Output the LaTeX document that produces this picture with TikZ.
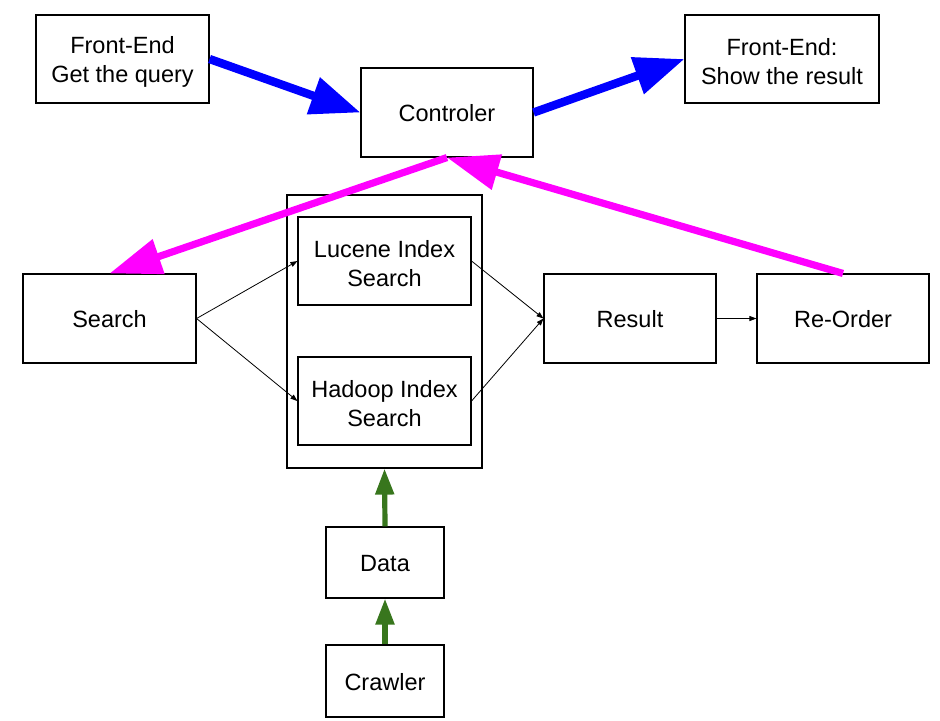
\documentclass[tikz,border=0pt]{standalone}
\usepackage{fontspec}
\setmainfont{Liberation Sans}
\usetikzlibrary{arrows.meta}
\definecolor{myblue}{RGB}{0,0,255}
\definecolor{mymag}{RGB}{255,0,255}
\definecolor{mygreen}{RGB}{56,118,29}
\tikzset{
  box/.style={draw=black, line width=0.55pt, fill=white, inner sep=0pt, align=center,
    font=\fontsize{11.75pt}{14.5pt}\selectfont, text height=9.5pt},
  twoline/.style={text height=26pt},
  thinarrow/.style={draw=black, line width=0.4pt, -{Triangle[length=3.5pt,width=2.5pt]}},
  bluearrow/.style={draw=myblue, line width=4.2pt, -{Triangle[length=25pt,width=18.5pt]}},
  magarrow/.style={draw=mymag, line width=3.6pt, -{Triangle[length=26pt,width=17.5pt]}},
  greenarrow/.style={draw=mygreen, line width=2.6pt, -{Triangle[length=13pt,width=9pt]}},
}
\begin{document}
\begin{tikzpicture}[x=0.5pt,y=-0.5pt]
\path[use as bounding box] (0,0) rectangle (940,720);
\node[box, twoline, minimum width=86.5pt, minimum height=44pt] (fe1) at (122.5,59) {Front-End\\Get the query};
\node[box, minimum width=86pt, minimum height=44.5pt] (ctrl) at (447,112.5) {Controler};
\node[box, twoline, minimum width=97pt, minimum height=44pt] (fe2) at (782,59) {Front-End:\\Show the result};
\node[box, minimum width=86.5pt, minimum height=44.5pt] (search) at (109.5,318.5) {Search};
\node[box, minimum width=97.5pt, minimum height=136.5pt] (outer) at (384.5,331.5) {};
\node[box, twoline, minimum width=86.5pt, minimum height=44pt] (lucene) at (384.5,261) {Lucene Index\\Search};
\node[box, twoline, minimum width=86.5pt, minimum height=44pt] (hadoop) at (384.5,401) {Hadoop Index\\Search};
\node[box, minimum width=86pt, minimum height=44.5pt] (result) at (630,318.5) {Result};
\node[box, minimum width=86pt, minimum height=44.5pt] (reorder) at (843,318.5) {Re-Order};
\node[box, minimum width=59pt, minimum height=35.5pt] (data) at (385,562.5) {Data};
\node[box, minimum width=59pt, minimum height=36pt] (crawler) at (385,681) {Crawler};

\draw[thinarrow] (search.east) -- (lucene.west);
\draw[thinarrow] (search.east) -- (hadoop.west);
\draw[thinarrow] (lucene.east) -- (result.west);
\draw[thinarrow] (hadoop.east) -- (result.west);
\draw[thinarrow] (result.east) -- (reorder.west);

\draw[bluearrow] (fe1.east) -- (ctrl.west);
\draw[bluearrow] (ctrl.east) -- (fe2.west);
\draw[magarrow] (ctrl.south) -- (search.north);
\draw[magarrow] (reorder.north) -- (ctrl.south);
\draw[greenarrow] (data.north) -- (outer.south);
\draw[greenarrow] (crawler.north) -- (data.south);
\end{tikzpicture}
\end{document}
